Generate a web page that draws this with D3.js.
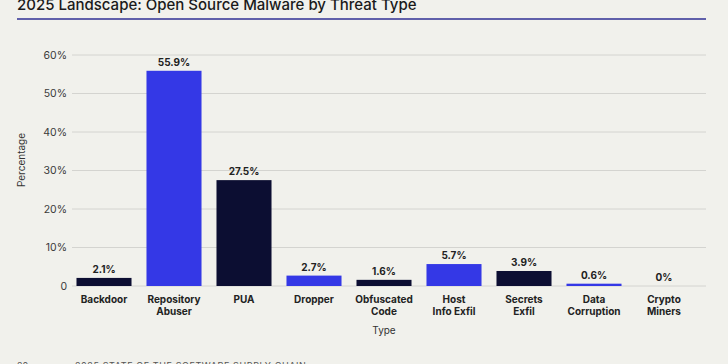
<!DOCTYPE html>
<html>
<head>
<meta charset="utf-8">
<script src="https://cdn.jsdelivr.net/npm/d3@7"></script>
<style>
  html, body { margin: 0; padding: 0; background: #f1f1ec; }
  svg { display: block; font-family: Inter, "Noto Sans", sans-serif; }
</style>
</head>
<body>
<svg id="chart" width="728" height="364"></svg>
<script>
// chart data
const categories = [
  ["Backdoor"], ["Repository", "Abuser"], ["PUA"], ["Dropper"], ["Obfuscated", "Code"],
  ["Host", "Info Exfil"], ["Secrets", "Exfil"], ["Data", "Corruption"], ["Crypto", "Miners"]
];
const values = [2.1, 55.9, 27.5, 2.7, 1.6, 5.7, 3.9, 0.6, 0];
const valueLabels = ["2.1%", "55.9%", "27.5%", "2.7%", "1.6%", "5.7%", "3.9%", "0.6%", "0%"];
const yTicks = [0, 10, 20, 30, 40, 50, 60];

const dark = "#0c0e32", blue = "#3438e6";

const svg = d3.select("#chart");

// title (cut off at top, like the page it came from)
svg.append("text")
  .attr("x", 17).attr("y", 10)
  .attr("font-size", 15).attr("font-weight", 500).attr("fill", "#1a1a1a")
  .text("2025 Landscape: Open Source Malware by Threat Type");

svg.append("line")
  .attr("x1", 17).attr("x2", 706).attr("y1", 19).attr("y2", 19)
  .attr("stroke", "#6060aa").attr("stroke-width", 2);

const x = d3.scaleBand()
  .domain(d3.range(categories.length))
  .range([69, 699])
  .paddingInner(0.214)
  .paddingOuter(0.107);

const y = d3.scaleLinear().domain([0, 60]).range([286, 55]);

// grid lines
svg.append("g")
  .selectAll("line")
  .data(yTicks)
  .join("line")
  .attr("x1", 72).attr("x2", 706)
  .attr("y1", d => y(d)).attr("y2", d => y(d))
  .attr("stroke", "#d4d4d0").attr("stroke-width", 1);

// y axis
const yAxis = d3.axisLeft(y)
  .tickValues(yTicks)
  .tickSize(0)
  .tickPadding(0)
  .tickFormat(d => d === 0 ? "0" : d + "%");

svg.append("g")
  .attr("transform", "translate(67,0)")
  .call(yAxis)
  .call(g => g.select(".domain").remove())
  .call(g => g.selectAll("text")
    .attr("font-size", 10.5).attr("fill", "#3a3a3a")
    .attr("font-family", "Inter, 'Noto Sans', sans-serif"));

svg.append("text")
  .attr("transform", "translate(25,160) rotate(-90)")
  .attr("text-anchor", "middle")
  .attr("font-size", 10).attr("fill", "#333")
  .text("Percentage");

// bars
svg.append("g")
  .selectAll("rect")
  .data(values)
  .join("rect")
  .attr("x", (d, i) => x(i))
  .attr("width", x.bandwidth())
  .attr("y", d => y(d))
  .attr("height", d => y(0) - y(d))
  .attr("fill", (d, i) => i % 2 === 1 ? blue : dark);

// value labels
svg.append("g")
  .selectAll("text")
  .data(values)
  .join("text")
  .attr("x", (d, i) => x(i) + x.bandwidth() / 2)
  .attr("y", d => y(d) - 5)
  .attr("text-anchor", "middle")
  .attr("font-size", 10).attr("font-weight", 700).attr("fill", "#222")
  .text((d, i) => valueLabels[i]);

// category labels
const cat = svg.append("g")
  .selectAll("text")
  .data(categories)
  .join("text")
  .attr("x", (d, i) => x(i) + x.bandwidth() / 2)
  .attr("y", 303)
  .attr("text-anchor", "middle")
  .attr("font-size", 10).attr("font-weight", 700).attr("fill", "#222");

cat.selectAll("tspan")
  .data(d => d)
  .join("tspan")
  .attr("x", function () { return d3.select(this.parentNode).attr("x"); })
  .attr("dy", (d, i) => i === 0 ? 0 : 12)
  .text(d => d);

svg.append("text")
  .attr("x", 384).attr("y", 334)
  .attr("text-anchor", "middle")
  .attr("font-size", 10).attr("fill", "#333")
  .text("Type");

// footer, mostly off the bottom edge
svg.append("text")
  .attr("x", 17).attr("y", 369)
  .attr("font-size", 9).attr("fill", "#555")
  .text("20");
svg.append("text")
  .attr("x", 75).attr("y", 369)
  .attr("font-size", 9).attr("fill", "#555").attr("letter-spacing", 0.6)
  .text("2025 STATE OF THE SOFTWARE SUPPLY CHAIN");
</script>
</body>
</html>
